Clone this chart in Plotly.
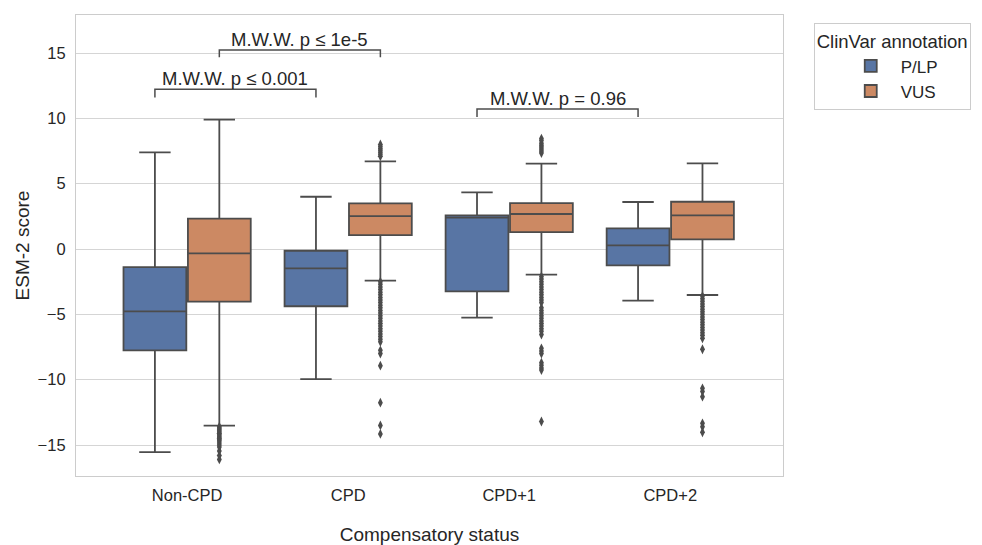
import plotly.graph_objects as go

# ---------------- data ----------------
categories = ["Non-CPD", "CPD", "CPD+1", "CPD+2"]
hue_levels = ["P/LP", "VUS"]

# box statistics
plp_q1 = [-7.75, -4.38, -3.24, -1.25]
plp_median = [-4.77, -1.48, 2.40, 0.28]
plp_q3 = [-1.38, -0.13, 2.58, 1.58]
plp_lower = [-15.55, -9.95, -5.25, -3.95]
plp_upper = [7.40, 4.00, 4.34, 3.60]

vus_q1 = [-4.03, 1.07, 1.30, 0.74]
vus_median = [-0.33, 2.52, 2.68, 2.58]
vus_q3 = [2.32, 3.50, 3.52, 3.62]
vus_lower = [-13.52, -2.42, -1.96, -3.52]
vus_upper = [9.90, 6.71, 6.53, 6.56]

# outliers (VUS only) per category
vus_outliers = {
    "Non-CPD": [-13.6, -13.7, -13.8, -13.9, -14.0, -14.1, -14.2, -14.3, -14.4,
                -14.5, -14.6, -14.7, -14.85, -15.0, -15.15, -15.45, -15.8, -16.1],
    "CPD": [7.1, 7.25, 7.4, 7.55, 7.7, 7.85, 8.0,
            -2.5, -2.7, -2.9, -3.1, -3.3, -3.5, -3.7, -3.9, -4.1, -4.3, -4.5,
            -4.7, -4.9, -5.1, -5.3, -5.5, -5.7, -5.9, -6.1, -6.3, -6.5, -6.7,
            -6.9, -7.1, -7.75, -8.0, -8.93, -11.76, -13.5, -14.15],
    "CPD+1": [7.35, 7.5, 7.65, 7.8, 7.95, 8.1, 8.3, 8.45,
              -2.1, -2.3, -2.5, -2.7, -2.9, -3.1, -3.3, -3.5, -3.7, -3.9, -4.1,
              -4.5, -4.7, -4.9, -5.1, -5.3, -5.5, -5.7, -5.9, -6.1, -6.3, -6.55,
              -7.6, -7.8, -8.0, -8.7, -8.9, -9.1, -9.26, -13.2],
    "CPD+2": [-3.6, -3.8, -4.0, -4.2, -4.4, -4.6, -4.8, -5.0, -5.2, -5.4, -5.6,
              -5.8, -6.0, -6.2, -6.4, -6.6, -6.83, -7.67,
              -10.66, -10.9, -11.3, -13.34, -13.6, -14.02],
}

# significance brackets: (left group pos, right group pos, height, text)
bracket_left = [-0.2, 0.2, 1.8]
bracket_right = [0.8, 1.2, 2.8]
bracket_height = [12.22, 15.23, 10.71]
bracket_tip = [0.62, 0.55, 0.6]
bracket_text = ["M.W.W. p ≤ 0.001", "M.W.W. p ≤ 1e-5", "M.W.W. p = 0.96"]

ytick_vals = [-15, -10, -5, 0, 5, 10, 15]
ytick_text = ["−15", "−10", "−5", "0", "5", "10", "15"]

# ---------------- style ----------------
FONT = "Liberation Sans, Arial, sans-serif"
BLUE = "#5875a4"
ORANGE = "#cc8963"
LINE = "#4c4c4c"
GRID = "#d5d5d5"
offset = 0.2
box_w = 0.39

pos = list(range(len(categories)))
fig = go.Figure()

fig.add_trace(go.Box(
    name=hue_levels[0], x=[p - offset for p in pos],
    q1=plp_q1, median=plp_median, q3=plp_q3,
    lowerfence=plp_lower, upperfence=plp_upper,
    boxpoints=False, width=box_w, whiskerwidth=0.5,
    fillcolor=BLUE, line=dict(color=LINE, width=1.8),
))
fig.add_trace(go.Box(
    name=hue_levels[1], x=[p + offset for p in pos],
    q1=vus_q1, median=vus_median, q3=vus_q3,
    lowerfence=vus_lower, upperfence=vus_upper,
    boxpoints=False, width=box_w, whiskerwidth=0.5,
    fillcolor=ORANGE, line=dict(color=LINE, width=1.8),
))

ox, oy = [], []
for i, c in enumerate(categories):
    for v in vus_outliers[c]:
        ox.append(i + offset)
        oy.append(v)
fig.add_trace(go.Scatter(
    x=ox, y=oy, mode="markers", showlegend=False, hoverinfo="y",
    marker=dict(symbol="diamond-tall", size=7, color=LINE, line=dict(width=0)),
))

for xl, xr, h, t, txt in zip(bracket_left, bracket_right, bracket_height,
                             bracket_tip, bracket_text):
    fig.add_trace(go.Scatter(
        x=[xl, xl, xr, xr], y=[h - t, h, h, h - t], mode="lines",
        line=dict(color=LINE, width=1.5), showlegend=False, hoverinfo="skip",
    ))
    fig.add_annotation(
        x=(xl + xr) / 2, y=h, xref="x", yref="y", text=txt, showarrow=False,
        yanchor="bottom", yshift=-2,
        font=dict(family=FONT, size=18.5, color="#262626"),
    )

fig.update_layout(
    width=982, height=545,
    margin=dict(l=76, r=198, t=15, b=69),
    paper_bgcolor="white", plot_bgcolor="white",
    font=dict(family=FONT, color="#262626"),
    boxmode="overlay",
    legend=dict(
        title=dict(text="ClinVar annotation", font=dict(size=18.5, family=FONT)),
        font=dict(size=17, family=FONT),
        x=1.042, y=0.982, xanchor="left", yanchor="top",
        bordercolor="#cccccc", borderwidth=1, bgcolor="white",
        indentation=26, itemwidth=50,
    ),
    showlegend=True,
)

fig.update_xaxes(
    range=[-0.69, 3.70], tickmode="array", tickvals=pos, ticktext=categories,
    showgrid=False, zeroline=False, showline=True, mirror=True,
    linecolor="#cccccc", linewidth=1.2, automargin=False,
    tickfont=dict(size=16.5, family=FONT, color="#262626"),
    ticks="outside", ticklen=4, tickcolor="rgba(0,0,0,0)",
    title=dict(text="Compensatory status", font=dict(size=19, family=FONT),
               standoff=24),
)
fig.update_yaxes(
    range=[-17.37, 17.91], tickmode="array", tickvals=ytick_vals,
    ticktext=ytick_text,
    showgrid=True, gridcolor=GRID, gridwidth=1, zeroline=False,
    showline=True, mirror=True, linecolor="#cccccc", linewidth=1.2,
    automargin=False,
    tickfont=dict(size=16.5, family=FONT, color="#262626"),
    ticks="outside", ticklen=6, tickcolor="rgba(0,0,0,0)",
    title=dict(text="ESM-2 score", font=dict(size=19, family=FONT), standoff=2),
)

fig.write_html("out.html")
